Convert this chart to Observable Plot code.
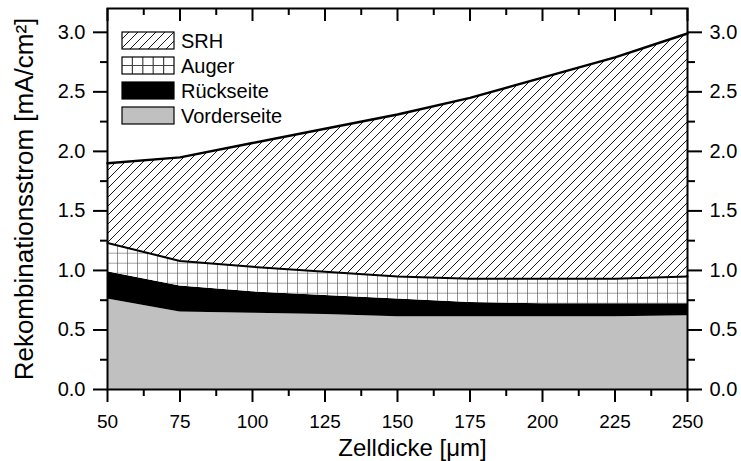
<!DOCTYPE html>
<html>
<head>
<meta charset="utf-8">
<script src="https://cdn.jsdelivr.net/npm/d3@7"></script>
<script src="https://cdn.jsdelivr.net/npm/@observablehq/plot@0.6"></script>
<style>
  body { margin: 0; background: #fff; }
  #chart svg { display: block; }
</style>
</head>
<body>
<div id="chart"></div>
<script>
// Cell thickness (µm) and the recombination current contributions (mA/cm²)
const thickness = [50, 75, 100, 125, 150, 175, 200, 225, 250];
const series = ["Vorderseite", "Rückseite", "Auger", "SRH"];
const vorderseite = [0.76, 0.65, 0.64, 0.63, 0.61, 0.61, 0.61, 0.61, 0.62];
const rueckseite  = [0.23, 0.22, 0.18, 0.16, 0.15, 0.12, 0.11, 0.11, 0.10];
const auger       = [0.24, 0.21, 0.21, 0.20, 0.19, 0.20, 0.21, 0.21, 0.23];
const srh         = [0.67, 0.87, 1.04, 1.20, 1.36, 1.52, 1.69, 1.86, 2.04];

const xTicks = [50, 75, 100, 125, 150, 175, 200, 225, 250];
const xMinor = [62.5, 87.5, 112.5, 137.5, 162.5, 187.5, 212.5, 237.5];
const yTicks = [0, 0.5, 1.0, 1.5, 2.0, 2.5, 3.0];
const yMinor = [0.25, 0.75, 1.25, 1.75, 2.25, 2.75];

const xTitle = "Zelldicke [μm]";
const yTitle = "Rekombinationsstrom [mA/cm²]";

const components = [vorderseite, rueckseite, auger, srh];
const fills = ["#c0c0c0", "#000000", "url(#pat-auger)", "url(#pat-srh)"];

// long format, bottom-up stacking order
const rows = series.flatMap((s, k) =>
  thickness.map((x, i) => ({x, series: s, value: components[k][i]})));

// upper boundaries drawn as solid lines
const bounds = thickness.map((x, i) => ({
  x,
  augerTop: vorderseite[i] + rueckseite[i] + auger[i],
  total: vorderseite[i] + rueckseite[i] + auger[i] + srh[i]
}));

const font = "'Liberation Sans', Arial, Helvetica, sans-serif";

const chart = Plot.plot({
  width: 741,
  height: 461,
  marginLeft: 107,
  marginRight: 54,
  marginTop: 8,
  marginBottom: 72,
  style: {fontFamily: font, fontSize: "20px", color: "#000", background: "#fff"},
  x: {domain: [50, 250]},
  y: {domain: [0, 3.2]},
  color: {type: "ordinal", domain: series, range: fills},
  marks: [
    Plot.areaY(rows, Plot.stackY({x: "x", y: "value", z: "series", fill: "series"})),
    Plot.lineY(bounds, {x: "x", y: "augerTop", stroke: "#000", strokeWidth: 2}),
    Plot.lineY(bounds, {x: "x", y: "total", stroke: "#000", strokeWidth: 2.4}),

    // bottom axis: outward ticks with labels
    Plot.axisX(xTicks, {anchor: "bottom", tickSize: 13, tickPadding: 12, fontSize: 19,
      strokeWidth: 2, label: null, tickFormat: d3.format("d")}),
    Plot.axisX(xMinor, {anchor: "bottom", tickSize: 7, strokeWidth: 2, fill: "none", label: null}),
    // top axis: inward ticks, no labels
    Plot.axisX(xTicks, {anchor: "bottom", frameAnchor: "top", tickSize: 13, strokeWidth: 2, fill: "none", label: null}),
    Plot.axisX(xMinor, {anchor: "bottom", frameAnchor: "top", tickSize: 7, strokeWidth: 2, fill: "none", label: null}),

    // left and right axes
    Plot.axisY(yTicks, {anchor: "left", tickSize: 14, tickPadding: 8, fontSize: 20,
      strokeWidth: 2, label: null, tickFormat: d3.format(".1f")}),
    Plot.axisY(yMinor, {anchor: "left", tickSize: 7, strokeWidth: 2, fill: "none", label: null}),
    Plot.axisY(yTicks, {anchor: "right", tickSize: 14, tickPadding: 8, fontSize: 20,
      strokeWidth: 2, label: null, tickFormat: d3.format(".1f")}),
    Plot.axisY(yMinor, {anchor: "right", tickSize: 7, strokeWidth: 2, fill: "none", label: null}),

    Plot.frame({stroke: "#000", strokeWidth: 2}),

    // axis titles
    Plot.text([xTitle], {frameAnchor: "bottom", lineAnchor: "bottom", textAnchor: "middle",
      dy: 66, dx: 15, fontSize: 24}),
    Plot.text([yTitle], {frameAnchor: "left", lineAnchor: "middle", textAnchor: "middle",
      rotate: -90, dx: -83, fontSize: 26})
  ]
});

// fill patterns for the SRH (hatch) and Auger (grid) bands
const svg = d3.select(chart);
const defs = svg.insert("defs", ":first-child");

const hatch = defs.append("pattern")
  .attr("id", "pat-srh")
  .attr("patternUnits", "userSpaceOnUse")
  .attr("x", 107).attr("y", 0)
  .attr("width", 9).attr("height", 9);
hatch.append("path")
  .attr("d", "M-1,10 L10,-1 M-3,2 L2,-3 M7,12 L12,7")
  .attr("stroke", "#000").attr("stroke-width", 0.9).attr("fill", "none");

const grid = defs.append("pattern")
  .attr("id", "pat-auger")
  .attr("patternUnits", "userSpaceOnUse")
  .attr("x", 107).attr("y", 2.7)
  .attr("width", 10).attr("height", 10);
grid.append("rect").attr("width", 10).attr("height", 10).attr("fill", "#fff");
grid.append("path")
  .attr("d", "M0,0 L0,10 M0,0 L10,0")
  .attr("stroke", "#444").attr("stroke-width", 1.2).attr("fill", "none");

// legend in the upper-left corner of the plot area
const legend = svg.append("g")
  .attr("font-family", font)
  .attr("font-size", 20)
  .attr("text-anchor", "start");
const boxX = 122, boxW = 52, boxH = 17, firstY = 32, pitch = 25;
const legendItems = ["SRH", "Auger", "Rückseite", "Vorderseite"];
const legendFill = {"SRH": "url(#pat-srh)", "Auger": "#fff", "Rückseite": "#000", "Vorderseite": "#c0c0c0"};

legendItems.forEach((name, k) => {
  const y = firstY + k * pitch;
  legend.append("rect")
    .attr("x", boxX).attr("y", y).attr("width", boxW).attr("height", boxH)
    .attr("fill", legendFill[name]);
  if (name === "Auger") {
    const cols = 5, rowsN = 2;
    for (let c = 1; c < cols; c++) {
      legend.append("line")
        .attr("x1", boxX + c * boxW / cols).attr("x2", boxX + c * boxW / cols)
        .attr("y1", y).attr("y2", y + boxH)
        .attr("stroke", "#444").attr("stroke-width", 1.2);
    }
    for (let r = 1; r < rowsN; r++) {
      legend.append("line")
        .attr("x1", boxX).attr("x2", boxX + boxW)
        .attr("y1", y + r * boxH / rowsN).attr("y2", y + r * boxH / rowsN)
        .attr("stroke", "#444").attr("stroke-width", 1.2);
    }
  }
  legend.append("rect")
    .attr("x", boxX).attr("y", y).attr("width", boxW).attr("height", boxH)
    .attr("fill", "none").attr("stroke", "#000").attr("stroke-width", 1.2);
  legend.append("text")
    .attr("x", boxX + boxW + 7).attr("y", y + boxH / 2 + 7)
    .attr("text-anchor", "start")
    .attr("fill", "#000")
    .text(name);
});

document.getElementById("chart").appendChild(chart);
</script>
</body>
</html>
